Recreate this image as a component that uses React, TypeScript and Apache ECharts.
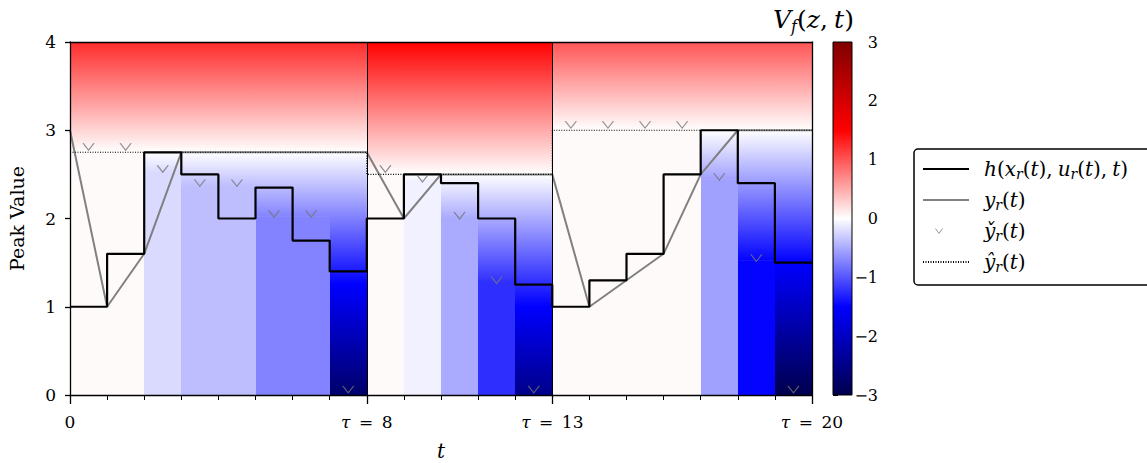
import React, { useEffect, useRef } from "react";
import * as echarts from "echarts";

// Axis ranges
const T_MIN = 0;
const T_MAX = 20;
const Z_MIN = 0;
const Z_MAX = 4;
const V_MIN = -3;
const V_MAX = 3;

// Segment boundaries τ and the reference peak level ŷ_r within each segment
const segmentBounds = [0, 8, 13, 20];
const segmentPeakLevels = [2.75, 2.5, 3.0];

// h(x_r(t), u_r(t), t) on each unit interval [k, k+1)
const stepValues = [
  1.0, 1.6, 2.75, 2.5, 2.0, 2.35, 1.75, 1.4,
  2.0, 2.5, 2.4, 2.0, 1.25,
  1.0, 1.3, 1.6, 2.5, 3.0, 2.4, 1.5,
];

// y_r(t) trace
const outputTrace: [number, number][] = [
  [0, 3.0], [1, 1.0], [2, 1.6], [3, 2.75], [8, 2.75],
  [9, 2.0], [10, 2.5], [13, 2.5],
  [14, 1.0], [15, 1.3], [16, 1.6], [17, 2.5], [18, 3.0], [20, 3.0],
];

// y̌_r(t) at the interval midpoints
const checkValues = [
  2.78, 2.78, 2.53, 2.37, 2.37, 2.02, 2.02, 0.03,
  2.53, 2.42, 2.0, 1.27, 0.03,
  3.03, 3.03, 3.03, 3.03, 2.44, 1.52, 0.03,
];

// Diverging "seismic" colour map
const cmapStops = [-3, -1.5, 0, 1.5, 3];
const cmapRGB: [number, number, number][] = [
  [0, 0, 77],
  [0, 0, 255],
  [255, 255, 255],
  [255, 0, 0],
  [128, 0, 0],
];

const FONT = '"DejaVu Serif", "Liberation Serif", serif';

function cmap(v: number): string {
  const x = Math.max(V_MIN, Math.min(V_MAX, v));
  let i = 0;
  while (i < cmapStops.length - 2 && x > cmapStops[i + 1]) i++;
  const f = (x - cmapStops[i]) / (cmapStops[i + 1] - cmapStops[i]);
  const a = cmapRGB[i];
  const b = cmapRGB[i + 1];
  const c = a.map((av, j) => Math.round(av + (b[j] - av) * f));
  return `rgb(${c[0]},${c[1]},${c[2]})`;
}

function segmentOf(k: number): number {
  for (let s = 0; s < segmentBounds.length - 1; s++) {
    if (k >= segmentBounds[s] && k < segmentBounds[s + 1]) return s;
  }
  return segmentBounds.length - 2;
}

// Vertical gradient between two values of V, with stops at the colour-map knots
function valueGradient(vTop: number, vBot: number) {
  const stops: { offset: number; color: string }[] = [{ offset: 0, color: cmap(vTop) }];
  const inner = cmapStops
    .filter((v) => v < vTop && v > vBot)
    .map((v) => ({ offset: (vTop - v) / (vTop - vBot), color: cmap(v) }))
    .sort((a, b) => a.offset - b.offset);
  stops.push(...inner);
  stops.push({ offset: 1, color: cmap(vBot) });
  return new echarts.graphic.LinearGradient(0, 0, 0, 1, stops);
}

// Value-function cells: one column per unit interval
const valueCells = stepValues.map((_, k) => [k, k + 1, segmentPeakLevels[segmentOf(k)], checkValues[k]]);

const stepData = [...stepValues.map((v, k) => [k, v]), [T_MAX, stepValues[stepValues.length - 1]]];
const peakLevelData = [
  ...segmentPeakLevels.map((v, s) => [segmentBounds[s], v]),
  [T_MAX, segmentPeakLevels[segmentPeakLevels.length - 1]],
];
const checkData = checkValues.map((v, k) => [k + 0.5, v]);

const richMath = (size: number, sub: number, lead = 0) => ({
  i: { fontFamily: FONT, fontSize: size, fontStyle: "italic", color: "#000", lineHeight: size + 4 },
  f: {
    fontFamily: FONT, fontSize: size, fontStyle: "italic", color: "#000",
    lineHeight: size + 4, padding: [0, 0, 0, lead],
  },
  s: {
    fontFamily: FONT, fontSize: sub, fontStyle: "italic", color: "#000",
    lineHeight: sub, padding: [size + 4 - sub, 0, 0, 0],
  },
});

const legendLabels: Record<string, string> = {
  h: "{f|h}({i|x}{s|r}({i|t}),\u2005{i|u}{s|r}({i|t}),\u2005{i|t})",
  y: "{f|y}{s|r}({i|t})",
  yCheck: "{f|y\u030C}{s|r}({i|t})",
  yHat: "{f|\u0177}{s|r}({i|t})",
};

export default function App() {
  const ref = useRef<HTMLDivElement>(null);

  useEffect(() => {
    if (!ref.current) return;
    const chart = echarts.init(ref.current, undefined, { renderer: "svg" });

    const axisLineStyle = { color: "#000", width: 1.3 };

    chart.setOption({
      animation: false,
      backgroundColor: "#fff",
      title: {
        text: "{i|V}{s|f}({i|z},\u2005{i|t})",
        left: 768,
        top: 0,
        textStyle: {
          fontFamily: FONT, fontSize: 25, fontWeight: "normal", color: "#000", lineHeight: 29,
          rich: richMath(25, 16),
        },
      },
      legend: {
        orient: "vertical",
        left: 914,
        top: 149,
        padding: [8, 30, 11, 8],
        itemWidth: 46,
        itemHeight: 14,
        itemGap: 7,
        borderColor: "#000",
        borderWidth: 1.5,
        borderRadius: 4,
        selectedMode: false,
        data: [
          { name: "h", itemStyle: { opacity: 0 } },
          { name: "y", itemStyle: { opacity: 0 } },
          {
            name: "yCheck",
            icon: "path://M0,0M46,14M12.5,4.5L16,9.5L19.5,4.5",
            itemStyle: { color: "transparent", borderColor: "#808080", borderWidth: 1 },
          },
          { name: "yHat", itemStyle: { opacity: 0 } },
        ],
        formatter: (name: string) => legendLabels[name] ?? name,
        textStyle: {
          fontFamily: FONT, fontSize: 20, color: "#000", lineHeight: 24,
          rich: richMath(20, 14, 10),
        },
      },
      grid: [
        { left: 70, top: 42, width: 742, height: 353, outerBoundsMode: "none", containLabel: false },
        { left: 833, top: 42, width: 19, height: 353, outerBoundsMode: "none", containLabel: false },
      ],
      xAxis: [
        {
          gridIndex: 0, type: "value", min: T_MIN, max: T_MAX, interval: 1, position: "bottom", z: 10,
          axisLine: { show: true, onZero: false, lineStyle: axisLineStyle },
          axisTick: { show: true, length: 5, lineStyle: { color: "#000", width: 1 } },
          axisLabel: { show: false },
          splitLine: { show: false },
          name: "t",
          nameLocation: "middle",
          nameGap: 46,
          nameTextStyle: { fontFamily: FONT, fontSize: 20, fontStyle: "italic", color: "#000" },
        },
        {
          gridIndex: 0, type: "value", min: T_MIN, max: T_MAX, position: "bottom", z: 10,
          axisLine: { show: false, onZero: false },
          axisTick: { show: true, customValues: segmentBounds, length: 9, lineStyle: { color: "#000", width: 1.3 } },
          axisLabel: {
            show: true,
            customValues: segmentBounds,
            margin: 18,
            formatter: (v: number) => (v === T_MIN ? String(v) : `{i|τ}\u2002=\u2002${v}`),
            fontFamily: FONT, fontSize: 17, color: "#000",
            rich: { i: { fontFamily: FONT, fontSize: 17, fontStyle: "italic", color: "#000" } },
          },
          splitLine: { show: false },
        },
        {
          gridIndex: 0, type: "value", min: T_MIN, max: T_MAX, position: "top", z: 10,
          axisLine: { show: true, onZero: false, lineStyle: axisLineStyle },
          axisTick: { show: false },
          axisLabel: { show: false },
          splitLine: { show: false },
        },
        { gridIndex: 1, type: "value", min: 0, max: 1, show: false },
      ],
      yAxis: [
        {
          gridIndex: 0, type: "value", min: Z_MIN, max: Z_MAX, interval: 1, position: "left", z: 10,
          axisLine: { show: true, onZero: false, lineStyle: axisLineStyle },
          axisTick: { show: true, length: 5, lineStyle: { color: "#000", width: 1.3 } },
          axisLabel: { margin: 14, fontFamily: FONT, fontSize: 17, color: "#000" },
          splitLine: { show: false },
          name: "Peak Value",
          nameLocation: "middle",
          nameGap: 44,
          nameRotate: 90,
          nameTextStyle: { fontFamily: FONT, fontSize: 19, color: "#000" },
        },
        {
          gridIndex: 0, type: "value", min: Z_MIN, max: Z_MAX, position: "right", z: 10,
          axisLine: { show: true, onZero: false, lineStyle: axisLineStyle },
          axisTick: { show: false },
          axisLabel: { show: false },
          splitLine: { show: false },
        },
        {
          gridIndex: 1, type: "value", min: V_MIN, max: V_MAX, interval: 1, position: "right",
          axisLine: { show: false },
          axisTick: { show: true, length: 5, lineStyle: { color: "#000", width: 1 } },
          axisLabel: {
            align: "right",
            margin: 26,
            fontFamily: FONT, fontSize: 16, color: "#000",
            formatter: (v: number) => (v < 0 ? "\u2212" + Math.abs(v) : String(v)),
          },
          splitLine: { show: false },
        },
      ],
      series: [
        {
          type: "custom",
          name: "V",
          xAxisIndex: 0,
          yAxisIndex: 0,
          silent: true,
          z: 1,
          encode: { x: [0, 1], y: 3 },
          data: valueCells,
          renderItem: (_params: any, api: any) => {
            const t0 = api.value(0);
            const t1 = api.value(1);
            const yh = api.value(2);
            const yc = api.value(3);
            const c = yc - yh;
            const x0 = Math.round(api.coord([t0, Z_MAX])[0]);
            const x1 = Math.round(api.coord([t1, Z_MIN])[0]);
            const yTopPx = api.coord([t0, Z_MAX])[1];
            const yBotPx = api.coord([t0, Z_MIN])[1];
            const w = x1 - x0 + (t1 < T_MAX ? 1 : 0);
            const zb = Math.min(Math.max(yc, Z_MIN), Z_MAX);
            const yb = api.coord([t0, zb])[1];
            const children: any[] = [];
            if (zb > Z_MIN) {
              children.push({
                type: "rect",
                shape: { x: x0, y: yb - 0.5, width: w, height: yBotPx - yb + 0.5 },
                style: { fill: cmap(c) },
              });
            }
            if (zb < Z_MAX) {
              children.push({
                type: "rect",
                shape: { x: x0, y: yTopPx, width: w, height: yb - yTopPx },
                style: { fill: valueGradient(Z_MAX - yh, zb - yh) },
              });
            }
            return { type: "group", children };
          },
        },
        {
          type: "line",
          name: "y",
          xAxisIndex: 0,
          yAxisIndex: 0,
          z: 3,
          symbol: "none",
          data: outputTrace,
          lineStyle: { color: "#808080", width: 2 },
          itemStyle: { color: "#808080" },
        },
        {
          type: "line",
          name: "yHat",
          xAxisIndex: 0,
          yAxisIndex: 0,
          z: 4,
          step: "end",
          symbol: "none",
          data: peakLevelData,
          lineStyle: { color: "#000", width: 1.1, type: [1, 1.5] },
          itemStyle: { color: "#000" },
          markLine: {
            silent: true,
            symbol: ["none", "none"],
            label: { show: false },
            lineStyle: { color: "#000", width: 1, type: "solid" },
            data: segmentBounds.slice(1, -1).map((v) => ({ xAxis: v })),
          },
        },
        {
          type: "line",
          name: "h",
          xAxisIndex: 0,
          yAxisIndex: 0,
          z: 5,
          step: "end",
          symbol: "none",
          data: stepData,
          lineStyle: { color: "#000", width: 2.2 },
          itemStyle: { color: "#000" },
        },
        {
          type: "scatter",
          name: "yCheck",
          xAxisIndex: 0,
          yAxisIndex: 0,
          z: 6,
          symbol: "path://M0,0L5,7L10,0",
          symbolSize: [11, 7],
          symbolOffset: [0, -3],
          data: checkData,
          itemStyle: { color: "transparent", borderColor: "#777", borderWidth: 1.1 },
        },
        {
          type: "custom",
          name: "colorbar",
          xAxisIndex: 3,
          yAxisIndex: 2,
          silent: true,
          data: [[0, 1, V_MIN, V_MAX]],
          encode: { x: [0, 1], y: [2, 3] },
          renderItem: (_params: any, api: any) => {
            const [x0, y0] = api.coord([api.value(0), api.value(3)]);
            const [x1, y1] = api.coord([api.value(1), api.value(2)]);
            return {
              type: "rect",
              shape: { x: x0, y: y0, width: x1 - x0, height: y1 - y0 },
              style: { fill: valueGradient(api.value(3), api.value(2)), stroke: "#000", lineWidth: 1 },
            };
          },
        },
      ],
    });

    return () => chart.dispose();
  }, []);

  return (
    <div
      ref={ref}
      style={{ position: "absolute", left: 0, top: 0, width: 1147, height: 463, background: "#fff" }}
    />
  );
}
